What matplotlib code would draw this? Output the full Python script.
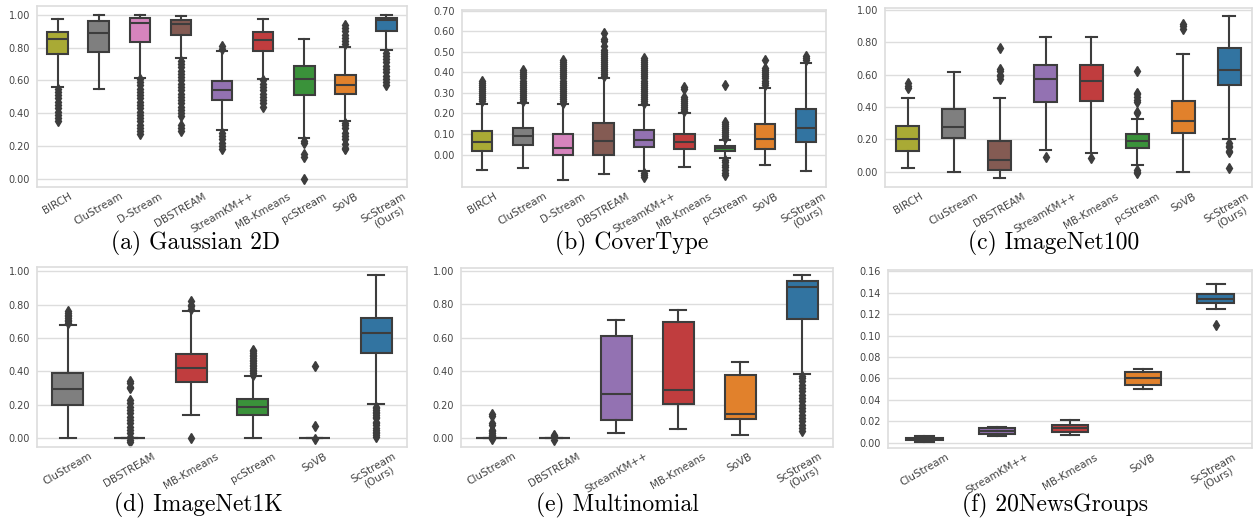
import matplotlib
matplotlib.use("Agg")
import matplotlib.pyplot as plt
import numpy as np

# five-number summaries: (whislo, q1, med, q3, whishi)
GAUSS_METHODS = ['BIRCH', 'CluStream', 'D-Stream', 'DBSTREAM', 'StreamKM++',
                 'MB-Kmeans', 'pcStream', 'SoVB', 'ScStream\n(Ours)']
GAUSS_STATS = [(0.56, 0.76, 0.855, 0.894, 0.974),
               (0.55, 0.776, 0.89, 0.961, 0.998),
               (0.617, 0.833, 0.953, 0.984, 1.0),
               (0.74, 0.876, 0.947, 0.967, 0.994),
               (0.295, 0.479, 0.54, 0.599, 0.78),
               (0.611, 0.78, 0.85, 0.894, 0.978),
               (0.248, 0.509, 0.609, 0.686, 0.855),
               (0.352, 0.519, 0.574, 0.631, 0.804),
               (0.784, 0.90, 0.968, 0.982, 0.998)]
GAUSS_FLIERS = [[0.35, 0.37, 0.39, 0.41, 0.43, 0.45, 0.47, 0.49, 0.51, 0.53, 0.55],
                [],
                [0.27, 0.29, 0.31, 0.33, 0.35, 0.37, 0.39, 0.41, 0.43, 0.45, 0.47,
                 0.49, 0.51, 0.53, 0.55, 0.57, 0.59, 0.61],
                [0.29, 0.31, 0.33, 0.38, 0.40, 0.42, 0.44, 0.46, 0.48, 0.50, 0.52,
                 0.54, 0.56, 0.58, 0.60, 0.62, 0.64, 0.66, 0.68, 0.70, 0.72],
                [0.18, 0.20, 0.22, 0.24, 0.26, 0.28, 0.79, 0.81],
                [0.44, 0.46, 0.48, 0.50, 0.52, 0.54, 0.56, 0.58, 0.60],
                [0.0, 0.13, 0.15, 0.22, 0.23],
                [0.18, 0.19, 0.21, 0.24, 0.26, 0.28, 0.31, 0.33, 0.34,
                 0.82, 0.84, 0.86, 0.88, 0.90, 0.92, 0.94],
                [0.57, 0.59, 0.61, 0.63, 0.65, 0.67, 0.69, 0.71, 0.73, 0.75, 0.77]]

COVER_METHODS = GAUSS_METHODS
COVER_STATS = [(-0.074, 0.019, 0.06, 0.113, 0.247),
               (-0.065, 0.047, 0.089, 0.131, 0.252),
               (-0.123, -0.003, 0.034, 0.098, 0.244),
               (-0.097, 0.0, 0.065, 0.153, 0.374),
               (-0.08, 0.037, 0.071, 0.119, 0.242),
               (-0.06, 0.026, 0.06, 0.10, 0.20),
               (-0.015, 0.015, 0.031, 0.042, 0.071),
               (-0.053, 0.029, 0.077, 0.15, 0.323),
               (-0.081, 0.06, 0.127, 0.219, 0.445)]
COVER_FLIERS = [[0.26, 0.27, 0.28, 0.29, 0.30, 0.31, 0.32, 0.33, 0.34, 0.35, 0.36],
                [0.26, 0.27, 0.28, 0.29, 0.30, 0.31, 0.32, 0.33, 0.34, 0.35, 0.36,
                 0.37, 0.38, 0.39, 0.40, 0.41],
                [0.25, 0.26, 0.27, 0.28, 0.29, 0.30, 0.31, 0.32, 0.33, 0.34, 0.35,
                 0.36, 0.37, 0.38, 0.39, 0.40, 0.41, 0.42, 0.43, 0.44, 0.45, 0.46],
                [0.38, 0.39, 0.40, 0.41, 0.42, 0.43, 0.44, 0.45, 0.46, 0.47, 0.48,
                 0.49, 0.50, 0.51, 0.53, 0.55, 0.56, 0.59],
                [-0.11, -0.10, -0.09, 0.25, 0.26, 0.27, 0.28, 0.29, 0.30, 0.31, 0.32,
                 0.33, 0.34, 0.35, 0.36, 0.37, 0.38, 0.39, 0.40, 0.41, 0.42, 0.43,
                 0.44, 0.45, 0.46, 0.47],
                [0.21, 0.22, 0.23, 0.24, 0.25, 0.26, 0.27, 0.28, 0.32, 0.33],
                [-0.10, -0.09, -0.075, -0.06, -0.05, -0.035, -0.025, 0.08, 0.09,
                 0.10, 0.11, 0.12, 0.13, 0.14, 0.15, 0.16, 0.34],
                [0.34, 0.35, 0.36, 0.37, 0.38, 0.39, 0.40, 0.41, 0.42, 0.46],
                [0.46, 0.47, 0.48]]

IN100_METHODS = ['BIRCH', 'CluStream', 'DBSTREAM', 'StreamKM++', 'MB-Kmeans',
                 'pcStream', 'SoVB', 'ScStream\n(Ours)']
IN100_STATS = [(0.021, 0.13, 0.202, 0.282, 0.458),
               (0.0, 0.21, 0.276, 0.386, 0.614),
               (-0.041, 0.012, 0.074, 0.192, 0.454),
               (0.132, 0.431, 0.571, 0.66, 0.831),
               (0.118, 0.437, 0.561, 0.66, 0.831),
               (0.041, 0.148, 0.188, 0.231, 0.326),
               (0.0, 0.239, 0.315, 0.435, 0.728),
               (0.204, 0.536, 0.627, 0.767, 0.963)]
IN100_FLIERS = [[0.515, 0.53, 0.55],
                [],
                [0.57, 0.59, 0.60, 0.62, 0.635, 0.765],
                [0.091],
                [0.085],
                [-0.01, 0.0, 0.008, 0.363, 0.37, 0.43, 0.44, 0.46, 0.48, 0.489, 0.623],
                [0.885, 0.90, 0.915],
                [0.025, 0.12, 0.13, 0.15, 0.16, 0.18]]

IN1K_METHODS = ['CluStream', 'DBSTREAM', 'MB-Kmeans', 'pcStream', 'SoVB',
                'ScStream\n(Ours)']
IN1K_STATS = [(0.0, 0.197, 0.294, 0.392, 0.68),
              (0.0, 0.0, 0.0, 0.0, 0.0),
              (0.143, 0.336, 0.419, 0.507, 0.759),
              (0.0, 0.139, 0.185, 0.237, 0.376),
              (0.0, 0.0, 0.0, 0.0, 0.0),
              (0.205, 0.513, 0.63, 0.722, 0.976)]
IN1K_FLIERS = [[0.69, 0.70, 0.71, 0.72, 0.73, 0.74, 0.75, 0.76],
               [-0.02, -0.01, 0.01, 0.03, 0.05, 0.07, 0.09, 0.11, 0.13, 0.15,
                0.17, 0.19, 0.21, 0.23, 0.30, 0.31, 0.33, 0.345],
               [0.0, 0.775, 0.79, 0.80, 0.82],
               [0.38, 0.39, 0.40, 0.41, 0.42, 0.43, 0.44, 0.45, 0.46, 0.47, 0.48,
                0.49, 0.50, 0.51, 0.52, 0.53],
               [-0.005, 0.074, 0.435],
               [0.01, 0.02, 0.03, 0.04, 0.05, 0.06, 0.08, 0.09, 0.10, 0.12, 0.13,
                0.14, 0.15, 0.16, 0.17, 0.18, 0.19]]

MULTI_METHODS = ['CluStream', 'DBSTREAM', 'StreamKM++', 'MB-Kmeans', 'SoVB',
                 'ScStream\n(Ours)']
MULTI_STATS = [(0.0, 0.0, 0.0, 0.0, 0.0),
               (0.0, 0.0, 0.0, 0.0, 0.0),
               (0.028, 0.106, 0.263, 0.612, 0.705),
               (0.056, 0.205, 0.285, 0.697, 0.765),
               (0.016, 0.116, 0.143, 0.376, 0.458),
               (0.384, 0.713, 0.904, 0.938, 0.976)]
MULTI_FLIERS = [[-0.005, 0.01, 0.02, 0.03, 0.04, 0.05, 0.08, 0.09, 0.13, 0.145],
                [-0.01, 0.01, 0.015],
                [],
                [],
                [],
                [0.04, 0.06, 0.08, 0.10, 0.12, 0.14, 0.16, 0.18, 0.20, 0.22, 0.24,
                 0.26, 0.28, 0.30, 0.32, 0.34, 0.36, 0.37]]

NEWS_METHODS = ['CluStream', 'StreamKM++', 'MB-Kmeans', 'SoVB', 'ScStream\n(Ours)']
NEWS_STATS = [(0.0012, 0.0025, 0.004, 0.005, 0.0068),
              (0.0065, 0.0087, 0.0115, 0.014, 0.0149),
              (0.0078, 0.0106, 0.014, 0.0171, 0.0217),
              (0.0503, 0.054, 0.0606, 0.0661, 0.0693),
              (0.1245, 0.1301, 0.1338, 0.1388, 0.1478)]
NEWS_FLIERS = [[], [], [], [], [0.1096]]

TITLES = ['(a) Gaussian 2D', '(b) CoverType', '(c) ImageNet100',
          '(d) ImageNet1K', '(e) Multinomial', '(f) 20NewsGroups']

COLORS = {'BIRCH': '#a9aa35', 'CluStream': '#7f7f7f', 'D-Stream': '#d684bd',
          'DBSTREAM': '#845b53', 'StreamKM++': '#9372b2', 'MB-Kmeans': '#c03d3e',
          'pcStream': '#3a923a', 'SoVB': '#e1812c', 'ScStream\n(Ours)': '#3274a1'}

W, H = 1255, 521
fig = plt.figure(figsize=(W / 100, H / 100), dpi=100)

# pixel boxes (left, top, right, bottom), ylim, yticks, title centre
panels = [
    (GAUSS_METHODS, GAUSS_STATS, GAUSS_FLIERS, (37, 6, 407, 187), (-0.051, 1.055), np.arange(0, 1.01, 0.2), (196, 243)),
    (COVER_METHODS, COVER_STATS, COVER_FLIERS, (462, 10, 826, 187), (-0.158, 0.703), np.arange(0, 0.71, 0.1), (632, 243)),
    (IN100_METHODS, IN100_STATS, IN100_FLIERS, (885, 8, 1252, 187), (-0.095, 1.012), np.arange(0, 1.01, 0.2), (1054, 243)),
    (IN1K_METHODS, IN1K_STATS, IN1K_FLIERS, (37, 267, 407, 447), (-0.051, 1.024), np.arange(0, 1.01, 0.2), (198, 505)),
    (MULTI_METHODS, MULTI_STATS, MULTI_FLIERS, (461, 268, 833, 447), (-0.054, 1.018), np.arange(0, 1.01, 0.2), (617, 505)),
    (NEWS_METHODS, NEWS_STATS, NEWS_FLIERS, (888, 270, 1252, 448), (-0.0047, 0.161), np.arange(0, 0.161, 0.02), (1055, 505)),
]

line_c = '#3d3d3d'
for (methods, stats, fliers, box, ylim, yticks, tpos), title in zip(panels, TITLES):
    l, t, r, b = box
    ax = fig.add_axes([l / W, 1 - b / H, (r - l) / W, (b - t) / H])
    bstats = []
    for name, s, f in zip(methods, stats, fliers):
        bstats.append(dict(whislo=s[0], q1=s[1], med=s[2], q3=s[3], whishi=s[4],
                           fliers=f, label=name))
    pos = np.arange(len(methods))
    art = ax.bxp(bstats, positions=pos, widths=0.5, patch_artist=True,
                 boxprops=dict(edgecolor=line_c, linewidth=1.5),
                 whiskerprops=dict(color=line_c, linewidth=1.5),
                 capprops=dict(color=line_c, linewidth=1.5),
                 medianprops=dict(color=line_c, linewidth=1.5),
                 flierprops=dict(marker='d', markerfacecolor=line_c,
                                 markeredgecolor=line_c, markersize=5))
    for patch, name in zip(art['boxes'], methods):
        patch.set_facecolor(COLORS[name])
    ax.set_xlim(-0.5, len(methods) - 0.5)
    ax.set_ylim(*ylim)
    ax.set_yticks(yticks)
    ax.set_yticklabels(['%.2f' % v for v in yticks])
    ax.set_xticks(pos)
    ax.set_xticklabels(methods, rotation=30, ha='center', fontsize=7.5, color='#444444',
                       linespacing=1.0)
    ax.tick_params(axis='y', labelsize=7, labelcolor='#444444', length=0, pad=5)
    ax.tick_params(axis='x', length=0, pad=3)
    ax.grid(axis='y', color='#dddddd', linewidth=1.0)
    ax.set_axisbelow(True)
    for sp in ax.spines.values():
        sp.set_color('#dddddd')
        sp.set_linewidth(1.2)
    fig.text(tpos[0] / W, 1 - tpos[1] / H, title, family='cmr10', fontsize=17,
             ha='center', va='center')

plt.savefig('out.png', dpi=100)
